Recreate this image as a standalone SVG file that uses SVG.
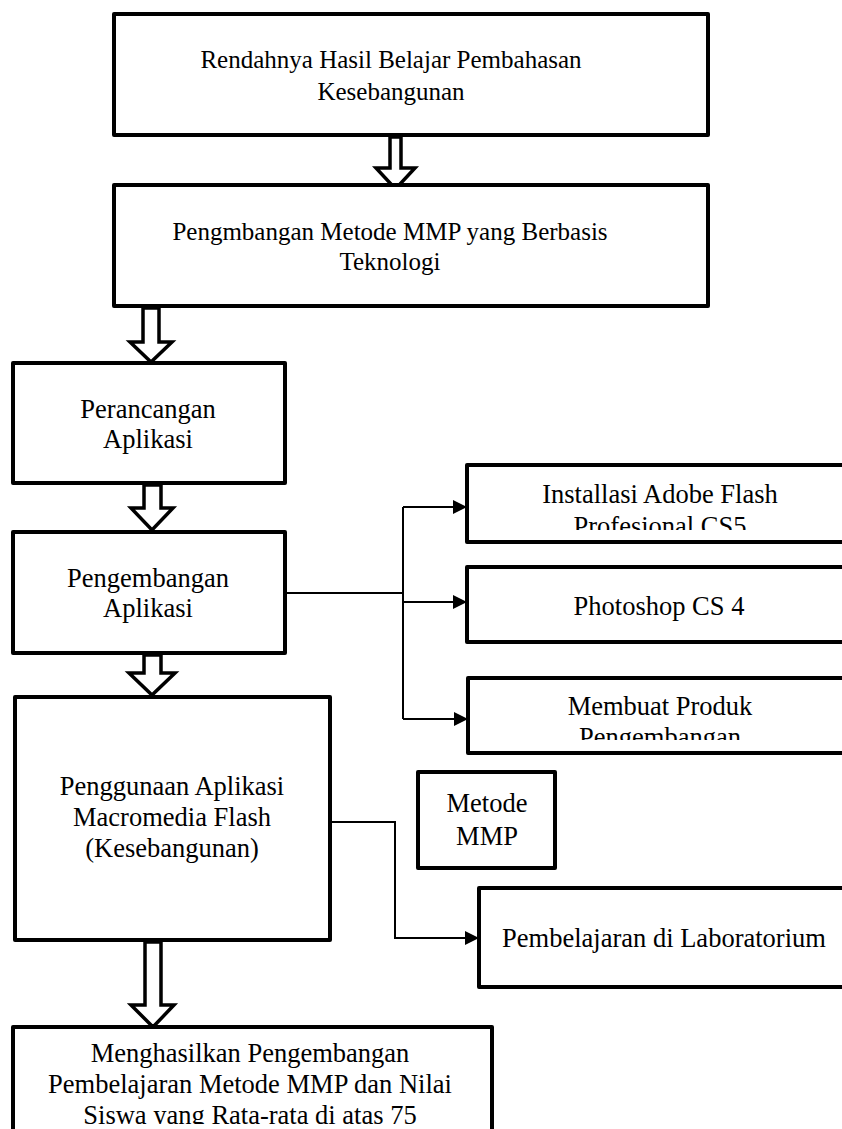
<svg xmlns="http://www.w3.org/2000/svg" width="842" height="1129" viewBox="0 0 842 1129">
<style>
.box{fill:#fff;stroke:#000;stroke-width:4;stroke-linejoin:round}
.t{font-family:'Liberation Serif','DejaVu Serif',serif;fill:#000;text-anchor:middle}
.s25{font-size:25px}
.s26{font-size:26.5px}
.blk{fill:#fff;stroke:#000;stroke-width:3.5;stroke-linejoin:miter}
.con{fill:none;stroke:#000;stroke-width:2}
</style>
<defs>
<marker id="ah" markerUnits="userSpaceOnUse" markerWidth="15" markerHeight="15" refX="14" refY="7" orient="auto">
<path d="M0,0 L14,7 L0,14 z" fill="#000"/>
</marker>
<clipPath id="c1"><rect x="470" y="468" width="372" height="62"/></clipPath>
<clipPath id="c3"><rect x="470" y="681" width="372" height="59"/></clipPath>
<clipPath id="c6"><rect x="15" y="1030" width="475" height="94"/></clipPath>
</defs>
<rect width="842" height="1129" fill="#fff"/>

<g id="connectors">
<path class="blk" d="M390,137 L401,137 L401,168 L415,168 L395.5,189 L376,168 L390,168 Z"/>
<path class="blk" d="M143,308 L159,308 L159,342 L172,342 L151,362 L130,342 L143,342 Z"/>
<path class="blk" d="M144,485 L161,485 L161,508 L173,508 L152,530 L131,508 L144,508 Z"/>
<path class="blk" d="M144,655 L161,655 L161,673 L175,673 L152,695 L129,673 L144,673 Z"/>
<path class="blk" d="M145,942 L161,942 L161,1005 L174,1005 L153,1027 L131,1005 L145,1005 Z"/>
<path class="con" d="M285,593 H403"/>
<path class="con" d="M403,507 V719"/>
<path class="con" d="M403,507 H467" marker-end="url(#ah)"/>
<path class="con" d="M403,602 H467" marker-end="url(#ah)"/>
<path class="con" d="M403,719 H468" marker-end="url(#ah)"/>
<path class="con" d="M330,822 H395 V938 H479" marker-end="url(#ah)"/>
</g>

<g id="n1">
<rect class="box" x="114" y="14" width="594" height="121"/>
<text class="t s25" x="391" y="68">Rendahnya Hasil Belajar Pembahasan</text>
<text class="t s25" x="391" y="100">Kesebangunan</text>
</g>
<g id="n2">
<rect class="box" x="114" y="185" width="594" height="121"/>
<text class="t s25" x="390" y="240">Pengmbangan Metode MMP yang Berbasis</text>
<text class="t s25" x="390" y="270">Teknologi</text>
</g>
<g id="n3">
<rect class="box" x="13" y="363" width="272" height="120"/>
<text class="t s26" x="148" y="418">Perancangan</text>
<text class="t s26" x="148" y="448">Aplikasi</text>
</g>
<g id="n4">
<rect class="box" x="13" y="532" width="272" height="121"/>
<text class="t s26" x="148" y="587">Pengembangan</text>
<text class="t s26" x="148" y="617">Aplikasi</text>
</g>
<g id="n5">
<rect class="box" x="15" y="697" width="315" height="243"/>
<text class="t s26" x="172" y="795">Penggunaan Aplikasi</text>
<text class="t s26" x="172" y="826">Macromedia Flash</text>
<text class="t s26" x="172" y="857">(Kesebangunan)</text>
</g>
<g id="n6">
<rect class="box" x="13" y="1027" width="479" height="120"/>
<g clip-path="url(#c6)">
<text class="t s26" x="250" y="1062">Menghasilkan Pengembangan</text>
<text class="t s26" x="250" y="1093">Pembelajaran Metode MMP dan Nilai</text>
<text class="t s26" x="250" y="1124">Siswa yang Rata-rata di atas 75</text>
</g>
</g>
<g id="r1">
<rect class="box" x="467" y="465" width="393" height="77"/>
<g clip-path="url(#c1)">
<text class="t s26" x="660" y="503">Installasi Adobe Flash</text>
<text class="t s26" x="660" y="535">Profesional CS5</text>
</g>
</g>
<g id="r2">
<rect class="box" x="467" y="567" width="393" height="75"/>
<text class="t s26" x="659" y="615">Photoshop CS 4</text>
</g>
<g id="r3">
<rect class="box" x="468" y="678" width="392" height="75"/>
<g clip-path="url(#c3)">
<text class="t s26" x="660" y="715">Membuat Produk</text>
<text class="t s26" x="660" y="746">Pengembangan</text>
</g>
</g>
<g id="mmp">
<rect class="box" x="418" y="772" width="137" height="96"/>
<text class="t s26" x="487" y="812">Metode</text>
<text class="t s26" x="487" y="845">MMP</text>
</g>
<g id="lab">
<rect class="box" x="479" y="888" width="381" height="99"/>
<text class="t s26" x="664" y="947">Pembelajaran di Laboratorium</text>
</g>
</svg>
